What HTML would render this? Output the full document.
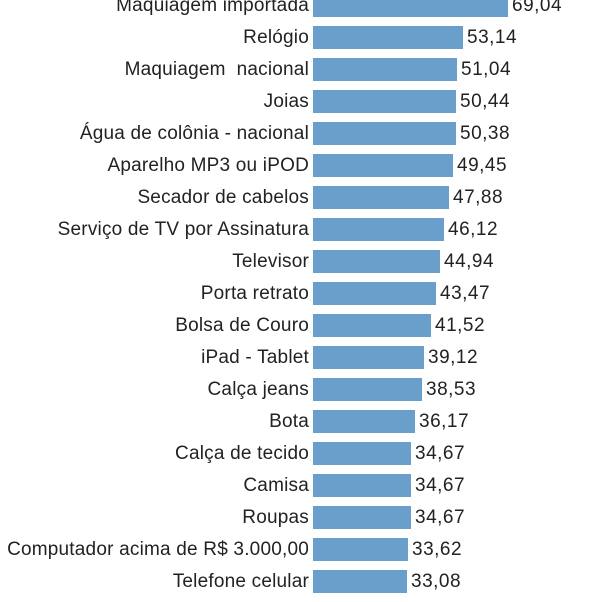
<!DOCTYPE html>
<html><head><meta charset="utf-8"><style>
body{margin:0;width:600px;height:600px;background:#fff;overflow:hidden;position:relative;font-family:"Liberation Sans","DejaVu Sans",sans-serif;}
.r{position:absolute;left:0;width:600px;height:32px;}
.l{position:absolute;right:291px;top:0;line-height:23px;font-size:19px;color:#222;white-space:nowrap;letter-spacing:0.2px;}
.b{position:absolute;left:313px;top:0;height:23px;background:#6a9fcb;}
.v{position:absolute;top:0;line-height:23px;font-size:19px;color:#222;letter-spacing:0.5px;}
</style></head><body>
<script>
var d=[["Maquiagem importada",69.04],["Relógio",53.14],["Maquiagem  nacional",51.04],["Joias",50.44],["Água de colônia - nacional",50.38],["Aparelho MP3 ou iPOD",49.45],["Secador de cabelos",47.88],["Serviço de TV por Assinatura",46.12],["Televisor",44.94],["Porta retrato",43.47],["Bolsa de Couro",41.52],["iPad - Tablet",39.12],["Calça jeans",38.53],["Bota",36.17],["Calça de tecido",34.67],["Camisa",34.67],["Roupas",34.67],["Computador acima de R$ 3.000,00",33.62],["Telefone celular",33.08]];
var h="";
d.forEach(function(e,i){var y=-6+32*i;var w=Math.round(e[1]*2.83);
h+='<div class="r" style="top:'+y+'px"><div class="l">'+e[0].replace(/  /g,"&nbsp; ")+'</div><div class="b" style="width:'+w+'px"></div><div class="v" style="left:'+(313+w+4)+'px">'+e[1].toFixed(2).replace(".",",")+'</div></div>';});
document.write(h);
</script>
</body></html>
